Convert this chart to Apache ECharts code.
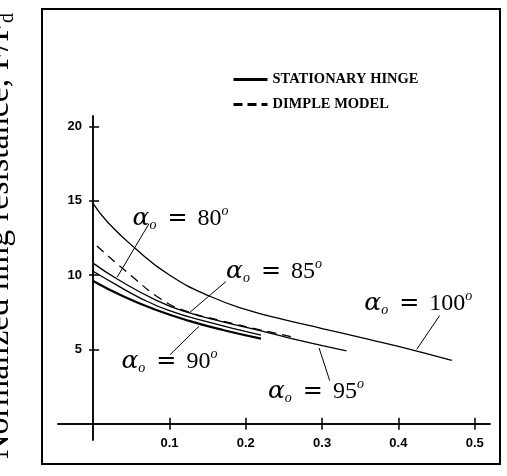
<!DOCTYPE html>
<html>
<head>
<meta charset="utf-8">
<script src="https://cdn.jsdelivr.net/npm/echarts@6/dist/echarts.min.js"></script>
<style>
html, body { margin: 0; padding: 0; background: #fff; }
#main { width: 507px; height: 476px; }
</style>
</head>
<body>
<div id="main"></div>
<script>
// curves (x = offset, y = normalized resistance)
var x100 = [0, 0.02, 0.055, 0.1, 0.153, 0.205, 0.25, 0.3, 0.35, 0.4, 0.47];
var y100 = [14.8, 13.5, 11.8, 10.0, 8.57, 7.6, 7.0, 6.4, 5.8, 5.2, 4.25];
var x95 = [0, 0.031, 0.083, 0.123, 0.17, 0.22, 0.27, 0.332];
var y95 = [10.8, 9.75, 8.3, 7.5, 6.85, 6.25, 5.6, 4.9];
var x80 = [0, 0.03, 0.06, 0.1, 0.15, 0.22];
var y80 = [10.25, 9.35, 8.5, 7.6, 6.85, 5.95];
var x90 = [0, 0.04, 0.08, 0.127, 0.17, 0.22];
var y90 = [9.6, 8.55, 7.7, 6.9, 6.3, 5.72];
var xDimple = [0.005, 0.05, 0.09, 0.123, 0.17, 0.22, 0.26];
var yDimple = [11.95, 9.95, 8.35, 7.55, 6.9, 6.3, 5.85];

var xTicks = [0.1, 0.2, 0.3, 0.4, 0.5];
var yTicks = [5, 10, 15, 20];

// angle notes and their arrows
var noteAngles = ['80', '85', '90', '95', '100'];
var noteX = [0.1145, 0.237, 0.1, 0.292, 0.426];
var noteY = [13.8, 10.23, 4.17, 2.15, 8.08];
var arrowFromX = [0.0733, 0.174, 0.1008, 0.310, 0.454];
var arrowFromY = [13.46, 9.56, 4.64, 2.89, 7.27];
var arrowToX = [0.0314, 0.127, 0.1387, 0.296, 0.424];
var arrowToY = [9.85, 7.5, 6.55, 5.1, 5.0];

function pairs(xs, ys) {
    var out = [];
    for (var i = 0; i < xs.length; i++) out.push([xs[i], ys[i]]);
    return out;
}

var dom = document.getElementById('main');
var myChart = echarts.init(dom, null, {renderer: 'canvas'});

var black = '#000';
var tickFont = {color: black, fontWeight: 'bold', fontSize: 13, fontFamily: 'Liberation Sans'};

// labels get drawn from the grid edge, so margins pull them back to the crossing axes
function xAx(pos, showLabel) {
    return {
        type: 'value', min: -0.046, max: 0.52, position: pos,
        axisLine: {onZero: true, onZeroAxisIndex: 0, lineStyle: {color: black, width: 1.5}},
        axisTick: {show: true, inside: false, length: 6, customValues: xTicks, lineStyle: {color: black, width: 1.5}},
        axisLabel: Object.assign({show: showLabel, customValues: xTicks, margin: -3}, tickFont),
        splitLine: {show: false}
    };
}
function yAx(pos, showLabel, len) {
    return {
        type: 'value', min: -1.1, max: 20.7, position: pos,
        axisLine: {onZero: true, onZeroAxisIndex: 0, lineStyle: {color: black, width: 1.5}},
        axisTick: {show: true, inside: false, length: len, customValues: yTicks, lineStyle: {color: black, width: 1.5}},
        axisLabel: Object.assign({show: showLabel, customValues: yTicks, margin: -24}, tickFont),
        splitLine: {show: false}
    };
}

function curve(name, xs, ys, width, type) {
    return {
        name: name, type: 'line', data: pairs(xs, ys),
        smooth: 0.5, symbol: 'none',
        color: black, itemStyle: {color: black},
        lineStyle: {color: black, width: width, type: type || 'solid'},
        silent: true
    };
}

var notePoints = [], noteArrows = [];
for (var i = 0; i < noteAngles.length; i++) {
    notePoints.push({
        coord: [noteX[i], noteY[i]],
        label: {formatter: '{a|α}{s|o}{e|=}{n|' + noteAngles[i] + '}{d|o}'}
    });
    noteArrows.push([
        {coord: [arrowFromX[i], arrowFromY[i]]},
        {coord: [arrowToX[i], arrowToY[i]]}
    ]);
}

option = {
    backgroundColor: '#fff',
    animation: false,
    grid: {left: 58, top: 116, width: 432, height: 324, containLabel: false},
    legend: {
        data: [
            {name: 'STATIONARY HINGE', lineStyle: {width: 3, type: 'solid'}},
            {name: 'DIMPLE MODEL', lineStyle: {width: 3, type: [9, 5]}}
        ],
        orient: 'vertical', left: 227, top: 67,
        itemWidth: 34, itemHeight: 14, itemGap: 10,
        selectedMode: false,
        itemStyle: {color: 'rgba(0,0,0,0)', borderWidth: 0, opacity: 0},
        textStyle: {fontFamily: 'Liberation Serif', fontWeight: 'bold', fontSize: 14.5, color: black}
    },
    xAxis: [xAx('bottom', true), xAx('top', false)],
    yAxis: [yAx('left', true, 4), yAx('right', false, 6)],
    series: [
        curve('DIMPLE MODEL', xDimple, yDimple, 1.3, [9, 6]),
        curve('STATIONARY HINGE', x100, y100, 1.3),
        curve('STATIONARY HINGE', x95, y95, 1.3),
        curve('STATIONARY HINGE', x80, y80, 1.3),
        curve('STATIONARY HINGE', x90, y90, 2.2),
        {
            name: 'notes', type: 'line', data: [], silent: true,
            markLine: {
                silent: true, animation: false,
                symbol: ['none', 'arrow'], symbolSize: [0, 8],
                label: {show: false},
                lineStyle: {color: black, width: 1, type: 'solid'},
                emphasis: {disabled: true},
                data: noteArrows
            },
            markPoint: {
                silent: true, animation: false,
                symbol: 'rect', symbolSize: 0,
                itemStyle: {color: 'transparent'},
                label: {
                    show: true, position: 'inside', color: black,
                    rich: {
                        a: {fontFamily: 'DejaVu Serif', fontStyle: 'italic', fontSize: 25, lineHeight: 28, color: black},
                        s: {fontFamily: 'Liberation Serif', fontStyle: 'italic', fontSize: 14, lineHeight: 14, verticalAlign: 'bottom', color: black},
                        e: {fontFamily: 'DejaVu Sans', fontSize: 24, lineHeight: 28, padding: [0, 10, 0, 11], color: black},
                        n: {fontFamily: 'Liberation Serif', fontSize: 24, lineHeight: 28, color: black},
                        d: {fontFamily: 'Liberation Serif', fontStyle: 'italic', fontSize: 14, lineHeight: 14, verticalAlign: 'top', color: black}
                    }
                },
                data: notePoints
            }
        }
    ],
    graphic: [
        {
            type: 'rect', silent: true,
            shape: {x: 42, y: 9, width: 458, height: 455},
            style: {fill: 'none', stroke: black, lineWidth: 2}
        },
        {
            type: 'text', silent: true,
            x: -1, y: 236, rotation: Math.PI / 2,
            style: {
                text: '{m|Normalized hing resistance, F/F}{s|d}',
                align: 'center', verticalAlign: 'middle',
                rich: {
                    m: {fontFamily: 'Liberation Serif', fontSize: 34, lineHeight: 38, fill: black},
                    s: {fontFamily: 'Liberation Serif', fontSize: 20, lineHeight: 20, verticalAlign: 'bottom', fill: black}
                }
            }
        }
    ]
};

myChart.setOption(option);
</script>
</body>
</html>
